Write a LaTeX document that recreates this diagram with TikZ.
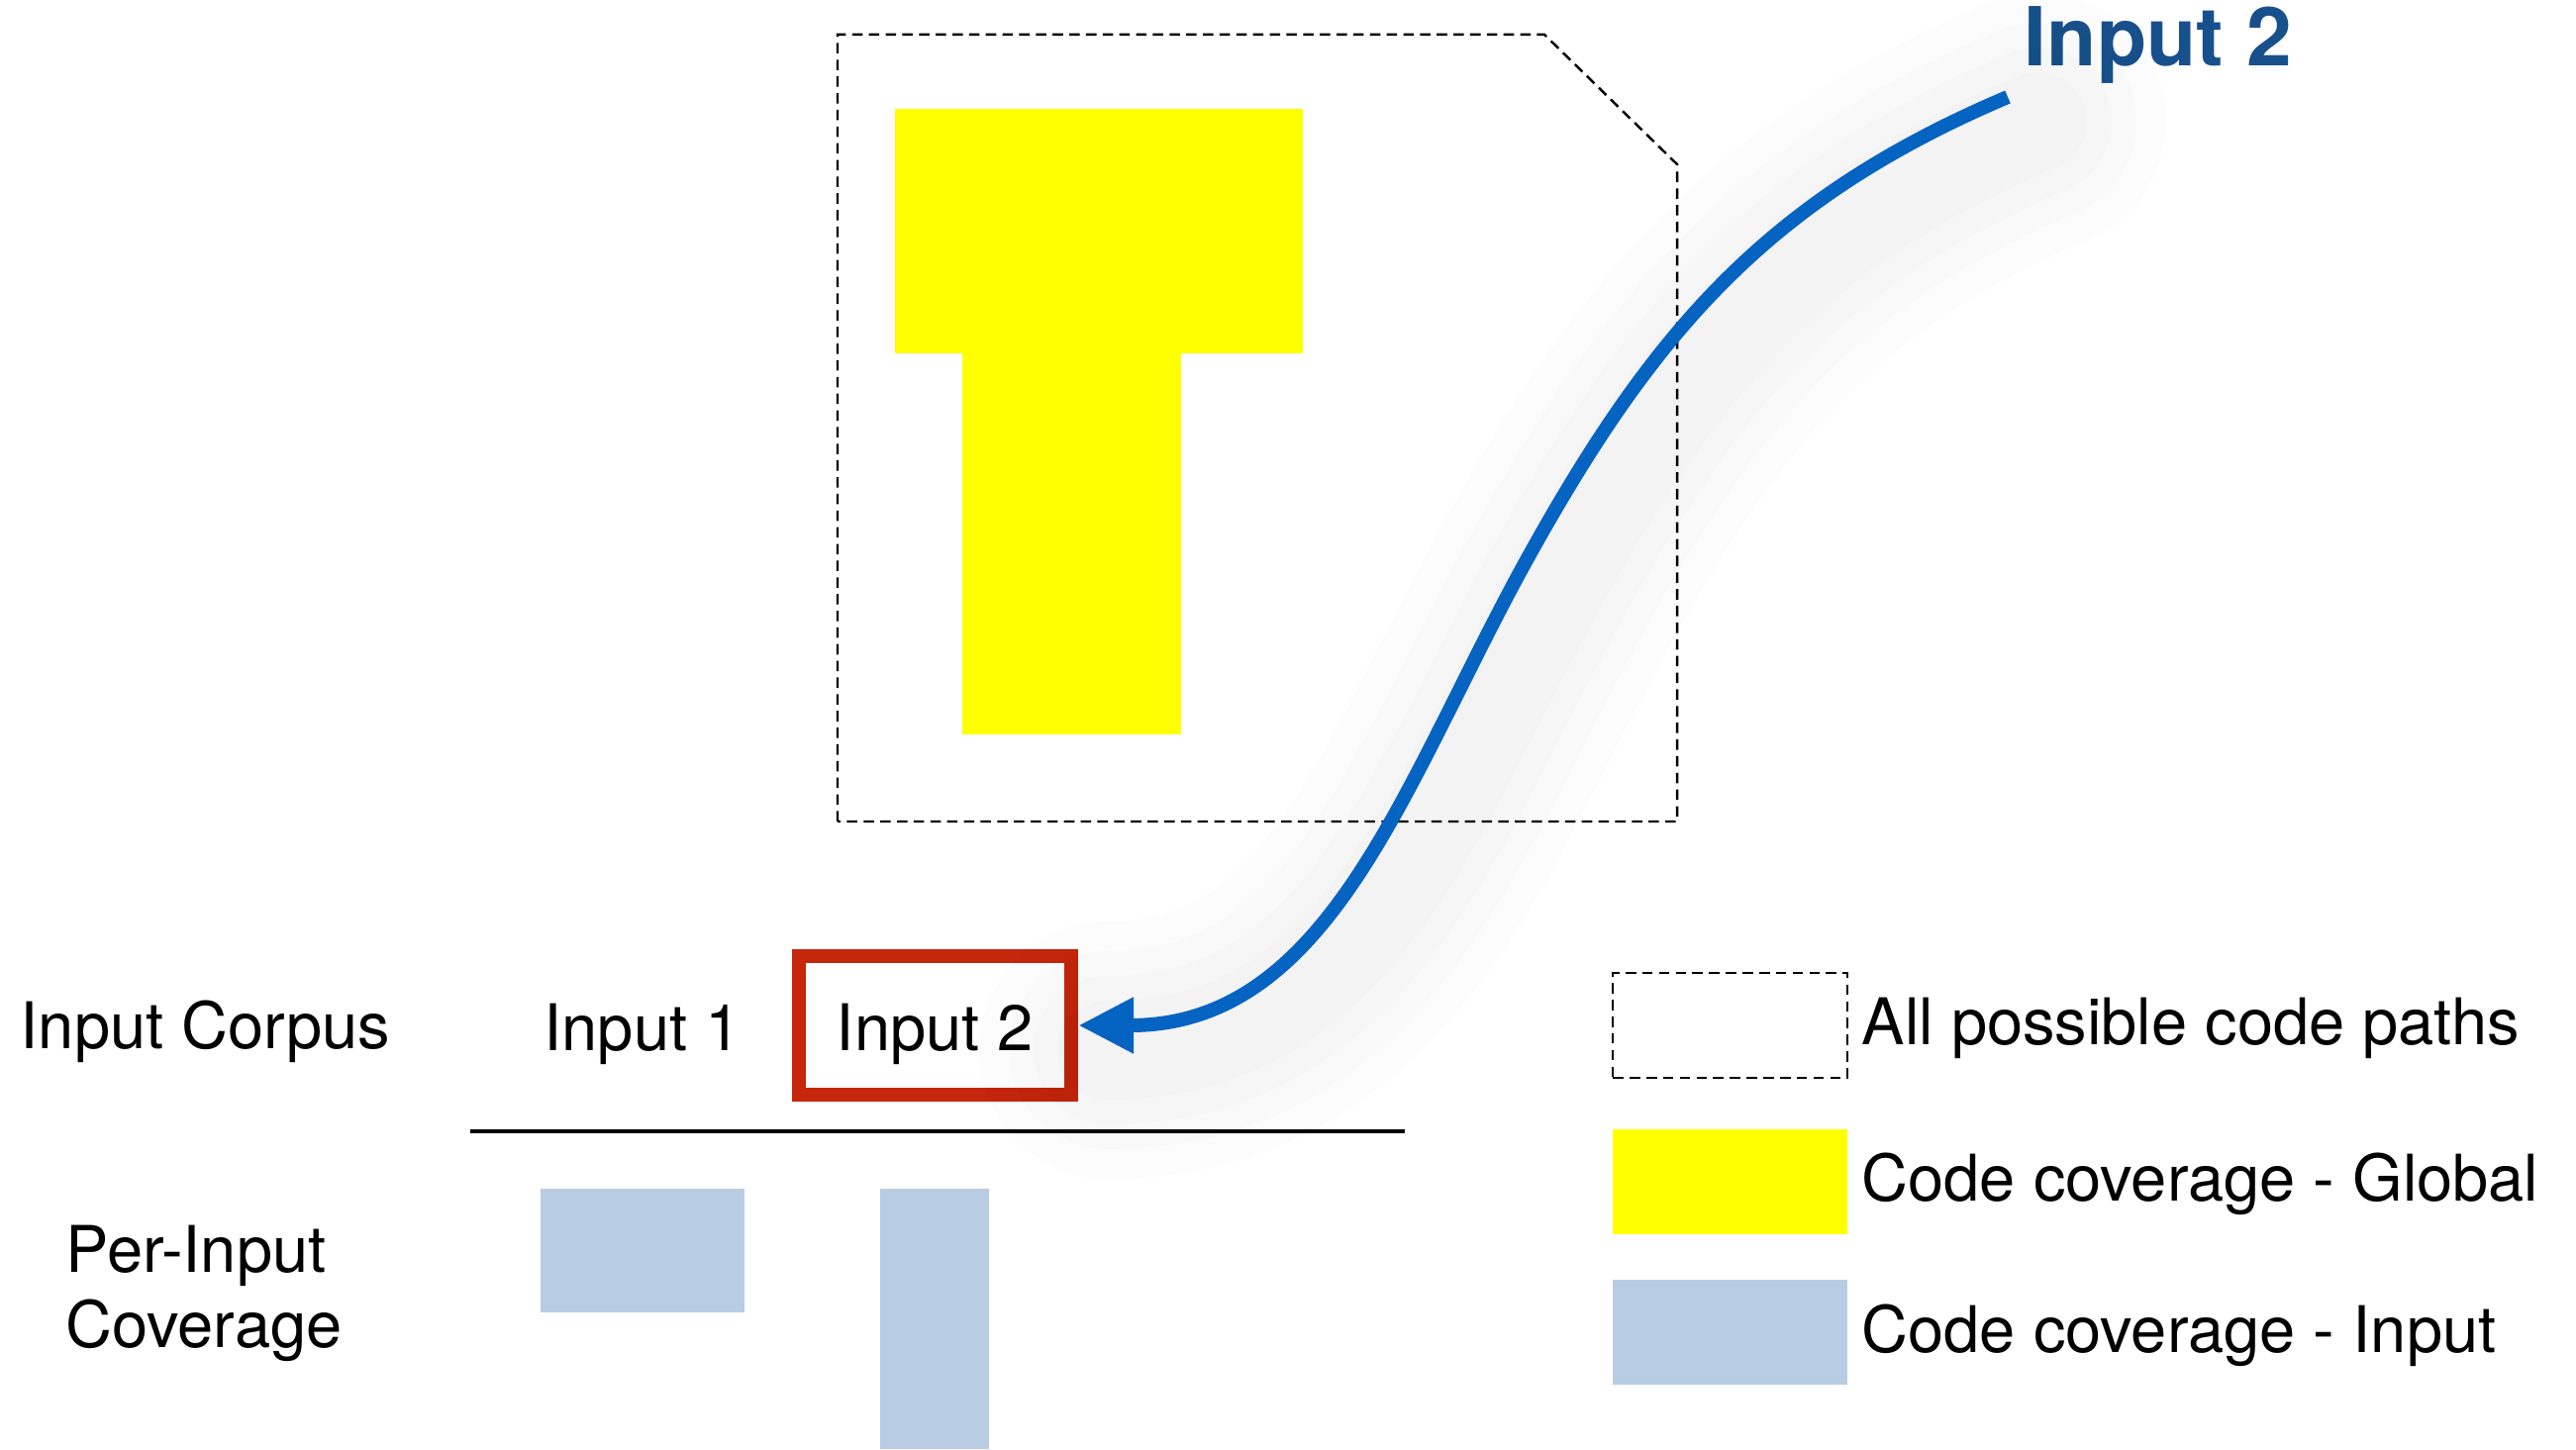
\documentclass[tikz,border=0pt]{standalone}
\usepackage{fontspec}
\setmainfont{TeX Gyre Heros}
\usepackage{tikz}
\usetikzlibrary{positioning, arrows.meta}

\definecolor{pathblue}{RGB}{5,99,193}
\definecolor{titleblue}{RGB}{24,80,140}
\definecolor{pickred}{RGB}{197,38,12}
\definecolor{covblue}{RGB}{184,204,228}
\definecolor{covyellow}{RGB}{255,255,0}

\begin{document}
\begin{tikzpicture}[
    lbl/.style={font=\fontsize{18.5}{21.6}\selectfont, inner sep=0pt},
    pathline/.style={dash pattern=on 3pt off 1.8pt, line width=0.7pt},
    picked/.style={draw=pickred, line width=0.14cm, minimum width=2.75cm, minimum height=1.4cm, inner sep=0pt},
    swatch/.style={minimum width=2.37cm, minimum height=1.06cm, inner sep=0pt, anchor=south west}
]
    \useasboundingbox (0,0) rectangle (26.02,14.64);
    % Code paths
    \fill [covyellow] (9.04,11.07) rectangle (13.16,13.54);
    \fill [covyellow] (9.72,7.22) rectangle (11.93,11.07);
    \draw [pathline] (8.46,6.34) -- (8.46,14.29) -- (15.60,14.29) -- (16.94,12.98) -- (16.94,6.34) -- cycle;
    % Corpus
    \node [lbl, anchor=west] (corpus) at (0.20,4.22) {Input Corpus};
    \node [lbl] (in1) at (6.49,4.19) {Input 1};
    \node [picked] (in2) at (9.445,4.28) {};
    \node [lbl] (in2txt) at (9.445,4.19) {Input 2};
    \draw [line width=1.4pt] (4.75,3.21) -- (14.19,3.21);
    % Per-input coverage
    \node [lbl, anchor=west, align=left] (perin) at (0.66,1.57) {Per-Input\\Coverage};
    \fill [covblue] (5.46,1.38) rectangle (7.52,2.63);
    \fill [covblue] (8.89,0) rectangle (9.99,2.63);
    % Legend
    \node [swatch, pathline, draw] (lgall) at (16.28,3.74) {};
    \node [swatch, fill=covyellow] (lgglob) at (16.28,2.16) {};
    \node [swatch, fill=covblue] (lginp) at (16.28,0.64) {};
    \node [lbl, anchor=west] at (18.80,4.25) {All possible code paths};
    \node [lbl, anchor=west] at (18.80,2.68) {Code coverage - Global};
    \node [lbl, anchor=west] at (18.80,1.15) {Code coverage - Input};
    % Arrow from the new input
    \node [font=\fontsize{23.4}{28}\selectfont\bfseries, text=titleblue, anchor=west, inner sep=0pt] (title) at (20.44,14.18) {Input 2};
    \coordinate (start) at (20.28,13.66);
    \coordinate (bend) at (15.43,9.0);
    \foreach \w in {2.6,2.0,1.5,1.0}
        \draw [black, opacity=0.012, line width=\w cm, line cap=round]
            ([xshift=0.3cm,yshift=-0.25cm]start) to[out=203,in=61] ([xshift=0.3cm,yshift=-0.25cm]bend) to[out=241,in=0] ([xshift=0.3cm,yshift=-0.25cm]in2.east);
    \draw [pathblue, line width=4pt, -{Triangle[length=5.6mm,width=5.3mm]}]
        (start) to[out=203,in=61] (bend) to[out=241,in=0] (in2.east);
\end{tikzpicture}
\end{document}
